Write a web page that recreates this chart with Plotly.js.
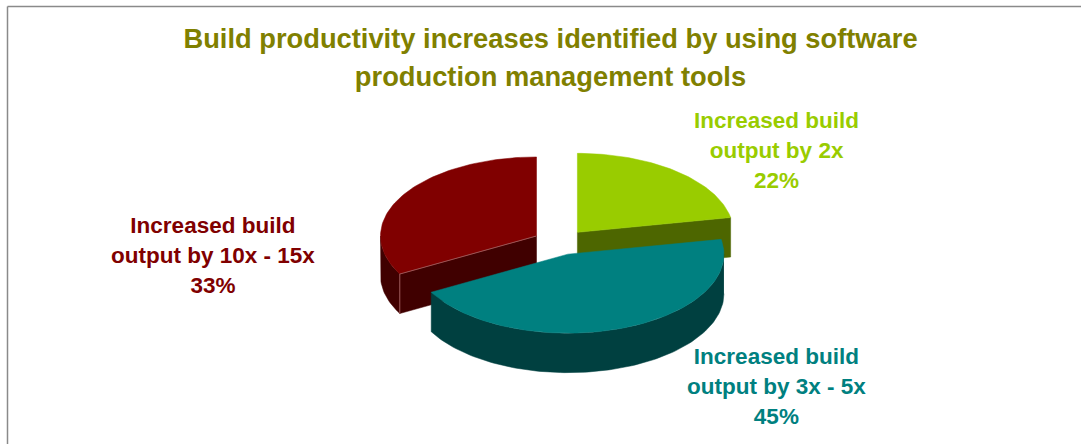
<!DOCTYPE html>
<html>
<head>
<meta charset="utf-8">
<script src="https://cdn.plot.ly/plotly-3.0.1.min.js"></script>
<style>html,body{margin:0;padding:0;background:#fff}#chart{width:1081px;height:444px}</style>
</head>
<body>
<div id="chart"></div>
<script>
// Data
const categories = ["Increased build<br>output by 2x", "Increased build<br>output by 3x - 5x", "Increased build<br>output by 10x - 15x"];
const shares = [22, 45, 33];
const topColors = ["#99CC00", "#008080", "#800000"];
const sideColors = ["#4D6600", "#004040", "#400000"];
const titleLines = ["Build productivity increases identified by using software", "production management tools"];

// Pie model (unit-circle data space; the axes apply the tilt)
const explode = [0.175, 0.15, 0.175], depth = 0.5;
const W = 1081, H = 444, cx = 560, cy = 243, rx = 156, ry = 79;
const rad = d => d * Math.PI / 180;

let start = 0;
const slices = shares.map((v, i) => {
  const a0 = start, a1 = start + v * 3.6;
  start = a1;
  const mid = (a0 + a1) / 2;
  return {i, a0, a1, ox: explode[i] * Math.sin(rad(mid)), oy: explode[i] * Math.cos(rad(mid))};
});
const pt = (s, a) => [s.ox + Math.sin(rad(a)), s.oy + Math.cos(rad(a))];
function arc(s, a0, a1) {
  const out = [], n = Math.max(1, Math.ceil(Math.abs(a1 - a0) / 1.5));
  for (let k = 0; k <= n; k++) out.push(pt(s, a0 + (a1 - a0) * k / n));
  return out;
}
function poly(pts, color) {
  return {type: "scatter", mode: "lines", x: pts.map(p => p[0]), y: pts.map(p => p[1]),
    fill: "toself", fillcolor: color, line: {color: color, width: 0.5},
    hoverinfo: "skip", showlegend: false};
}
const drop = p => [p[0], p[1] - depth];
function topFace(s) {
  return poly([[s.ox, s.oy], ...arc(s, s.a0, s.a1), [s.ox, s.oy]], topColors[s.i]);
}
function wall(s) {
  const a0 = Math.max(s.a0, 90), a1 = Math.min(s.a1, 270);
  if (a1 <= a0) return null;
  const edge = arc(s, a0, a1);
  return poly([...edge, ...edge.slice().reverse().map(drop)], sideColors[s.i]);
}
function cut(s, a) {
  const c = [s.ox, s.oy], e = pt(s, a);
  return poly([c, e, drop(e), drop(c), c], sideColors[s.i]);
}
const [green, teal, red] = slices;
const traces = [
  cut(green, green.a1), topFace(green),
  cut(red, red.a0), wall(red), topFace(red),
  wall(teal), topFace(teal)
].filter(Boolean);

// Pale seam on the red slice edge
const rc = [red.ox, red.oy], re = pt(red, red.a0);
traces.splice(5, 0, {type: "scatter", mode: "lines",
  x: [rc[0], re[0], re[0]], y: [rc[1], re[1], re[1] - depth],
  line: {color: "#9A5555", width: 1}, hoverinfo: "skip", showlegend: false});

const labelFont = {family: "Liberation Sans, Arial, sans-serif", size: 23.1};
const labelPos = [[776.5, 150], [776.5, 386], [212.5, 255]];
const labelSpan = s => '<span style="font-size:22.5px"><b>' + s + "</b></span>";
const annotations = slices.map((s, i) => ({
  xref: "paper", yref: "paper", x: labelPos[i][0] / W, y: 1 - labelPos[i][1] / H,
  xanchor: "center", yanchor: "middle", align: "center", showarrow: false,
  text: (categories[i] + "<br>" + shares[i] + "%").split("<br>").map(labelSpan).join("<br>"),
  font: {...labelFont, color: topColors[i]}
}));

const titleSpan = s => '<span style="font-size:27.3px"><b>' + s + "</b></span>";
const layout = {
  width: W, height: H, margin: {l: 0, r: 0, t: 0, b: 0},
  paper_bgcolor: "#fff", plot_bgcolor: "#fff", showlegend: false,
  title: {text: titleLines.map(titleSpan).join("<br>"),
    x: 550.5 / W, xanchor: "center", y: 1 - 48 / H, yanchor: "middle",
    font: {family: "Liberation Sans, Arial, sans-serif", size: 29.2, color: "#808000"}},
  xaxis: {range: [(0 - cx) / rx, (W - cx) / rx], visible: false, fixedrange: true},
  yaxis: {range: [(cy - H) / ry, cy / ry], visible: false, fixedrange: true},
  annotations,
  shapes: [
    {type: "line", xref: "paper", yref: "paper", x0: 7.5 / W, x1: 7.5 / W, y0: 0, y1: 1 - 6.5 / H, line: {color: "#8A8A8A", width: 1.5}},
    {type: "line", xref: "paper", yref: "paper", x0: 7.5 / W, x1: 1, y0: 1 - 6.5 / H, y1: 1 - 6.5 / H, line: {color: "#8A8A8A", width: 1.5}}
  ]
};
Plotly.newPlot("chart", traces, layout, {displayModeBar: false, staticPlot: true});
</script>
</body>
</html>
